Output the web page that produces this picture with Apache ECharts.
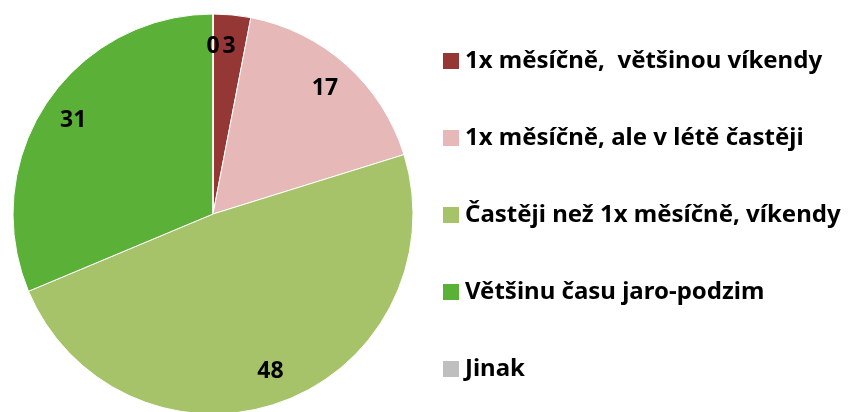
<!DOCTYPE html>
<html>
<head>
<meta charset="utf-8">
<script src="https://cdn.jsdelivr.net/npm/echarts@6/dist/echarts.min.js"></script>
<style>
    html, body { margin: 0; padding: 0; background: #fff; }
    #chart { width: 848px; height: 412px; }
</style>
</head>
<body>
<div id="chart"></div>
<script>
// kategorie a hodnoty
const categories = [
    '1x měsíčně,  většinou víkendy',
    '1x měsíčně, ale v létě častěji',
    'Častěji než 1x měsíčně, víkendy',
    'Většinu času jaro-podzim',
    'Jinak'
];
const values = [3, 17, 48, 31, 0];
const colors = ['#953735', '#E6B9B8', '#A6C36A', '#5BB137', '#BFBFBF'];

const font = 'Noto Sans';
const center = [213, 214];

const pieData = categories.map((name, i) => ({
    name: name,
    value: values[i],
    itemStyle: { color: colors[i] }
}));

// druhá (průhledná) řada jen kvůli umístění popisků blíž k okraji
const labelData = categories.map((name, i) => ({
    name: name,
    value: values[i]
}));

const chart = echarts.init(document.getElementById('chart'), null, { renderer: 'canvas' });
const option = {
    animation: false,
    legend: {
        orient: 'vertical',
        left: 441,
        top: 49,
        padding: 0,
        itemWidth: 18,
        itemHeight: 18,
        itemGap: 53,
        icon: 'rect',
        data: categories.map((name, i) => ({ name: name, itemStyle: { color: colors[i] } })),
        textStyle: {
            fontFamily: font,
            fontWeight: 'bold',
            fontSize: 24,
            color: '#000',
            padding: [0, 0, 0, 0]
        }
    },
    series: [{
        type: 'pie',
        radius: [0, 200],
        center: center,
        startAngle: 90,
        clockwise: true,
        silent: true,
        label: { show: false },
        labelLine: { show: false },
        itemStyle: { borderColor: '#fff', borderWidth: 1 },
        data: pieData
    }, {
        type: 'pie',
        radius: [130, 200],
        center: center,
        startAngle: 90,
        clockwise: true,
        silent: true,
        itemStyle: { color: 'rgba(0,0,0,0)' },
        label: {
            show: true,
            position: 'inside',
            formatter: '{c}',
            fontFamily: font,
            fontWeight: 'bold',
            fontSize: 23,
            color: '#000'
        },
        labelLine: { show: false },
        data: labelData
    }]
};
chart.setOption(option);
</script>
</body>
</html>
